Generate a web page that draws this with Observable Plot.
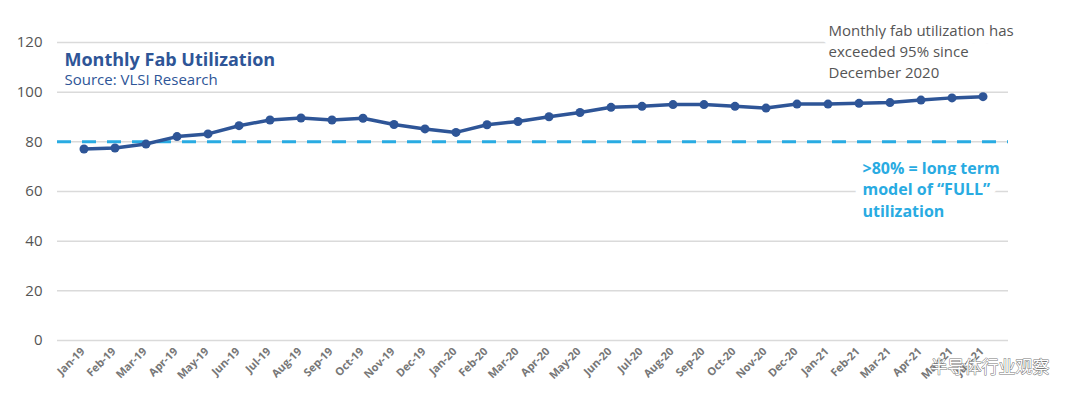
<!DOCTYPE html>
<html>
<head>
<meta charset="utf-8">
<script src="https://cdn.jsdelivr.net/npm/d3@7"></script>
<script src="https://cdn.jsdelivr.net/npm/@observablehq/plot@0.6"></script>
<style>
  html, body { margin: 0; padding: 0; background: #fff; }
  #chart svg { display: block; }
</style>
</head>
<body>
<div id="chart"></div>
<script>
const months = ["Jan-19","Feb-19","Mar-19","Apr-19","May-19","Jun-19","Jul-19","Aug-19","Sep-19","Oct-19","Nov-19","Dec-19",
  "Jan-20","Feb-20","Mar-20","Apr-20","May-20","Jun-20","Jul-20","Aug-20","Sep-20","Oct-20","Nov-20","Dec-20",
  "Jan-21","Feb-21","Mar-21","Apr-21","May-21","Jun-21"];
const utilization = [77.1,77.5,79.1,82.1,83.2,86.5,88.8,89.6,88.8,89.5,87.0,85.2,
  83.8,86.9,88.2,90.1,91.8,93.9,94.3,95.0,95.0,94.3,93.6,95.2,
  95.2,95.5,95.8,96.8,97.7,98.2];
const yTicks = [0,20,40,60,80,100,120];
const fullThreshold = 80;
const titleText = "Monthly Fab Utilization";
const sourceText = "Source: VLSI Research";
const noteText = "Monthly fab utilization has\nexceeded 95% since\nDecember 2020";
const thresholdText = ">80% = long term\nmodel of \u201CFULL\u201D\nutilization";
const watermark = "半导体行业观察";

const data = months.map((m, i) => ({month: m, value: utilization[i]}));
const font = "'Open Sans', 'Noto Sans', sans-serif";

const chart = Plot.plot({
  width: 1080,
  height: 413,
  marginLeft: 57,
  marginRight: 72,
  marginTop: 42,
  marginBottom: 73,
  style: {fontFamily: font, background: "#fff"},
  x: {type: "band", domain: months, padding: 0, label: null},
  y: {domain: [0, 120], label: null},
  marks: [
    Plot.ruleY(yTicks, {stroke: "#dadada", strokeWidth: 1.5}),
    Plot.ruleY([fullThreshold], {stroke: "#29abe2", strokeWidth: 3, strokeDasharray: "14,11"}),
    Plot.axisY({ticks: yTicks, tickSize: 0, tickPadding: 15, fontSize: 15, fill: "#555", label: null}),
    Plot.axisX({tickSize: 0, tickPadding: 9, dx: -1, tickRotate: -45, fontSize: 11, fontWeight: "bold", fill: "#777", label: null}),
    Plot.line(data, {x: "month", y: "value", stroke: "#2e5597", strokeWidth: 3.5}),
    Plot.dot(data, {x: "month", y: "value", r: 4.5, fill: "#2e5597", stroke: "none"}),
    Plot.text([titleText], {frameAnchor: "top-left", dx: 7, dy: 18, textAnchor: "start", lineAnchor: "middle",
      fontSize: 18, fontWeight: "bold", fill: "#2e5597"}),
    Plot.text([sourceText], {frameAnchor: "top-left", dx: 7, dy: 38, textAnchor: "start", lineAnchor: "middle",
      fontSize: 15, fill: "#2e5597"}),
    Plot.text([noteText], {frameAnchor: "top-right", dx: -180, dy: 8, textAnchor: "start", lineAnchor: "middle",
      lineHeight: 1.4, fontSize: 15, fill: "#555", stroke: "#fff", strokeWidth: 16}),
    Plot.text([thresholdText], {frameAnchor: "right", dx: -146, dy: -3, textAnchor: "start", lineAnchor: "middle",
      lineHeight: 1.35, fontSize: 16, fontWeight: "bold", fill: "#29abe2", stroke: "#fff", strokeWidth: 16}),
    Plot.text([watermark], {frameAnchor: "bottom-right", dx: -78, dy: 27, textAnchor: "start", lineAnchor: "middle",
      fontSize: 17, fontFamily: "'Noto Sans CJK SC', sans-serif", fill: "#fff", stroke: "#777", strokeWidth: 1})
  ]
});
document.getElementById("chart").appendChild(chart);
</script>
</body>
</html>
